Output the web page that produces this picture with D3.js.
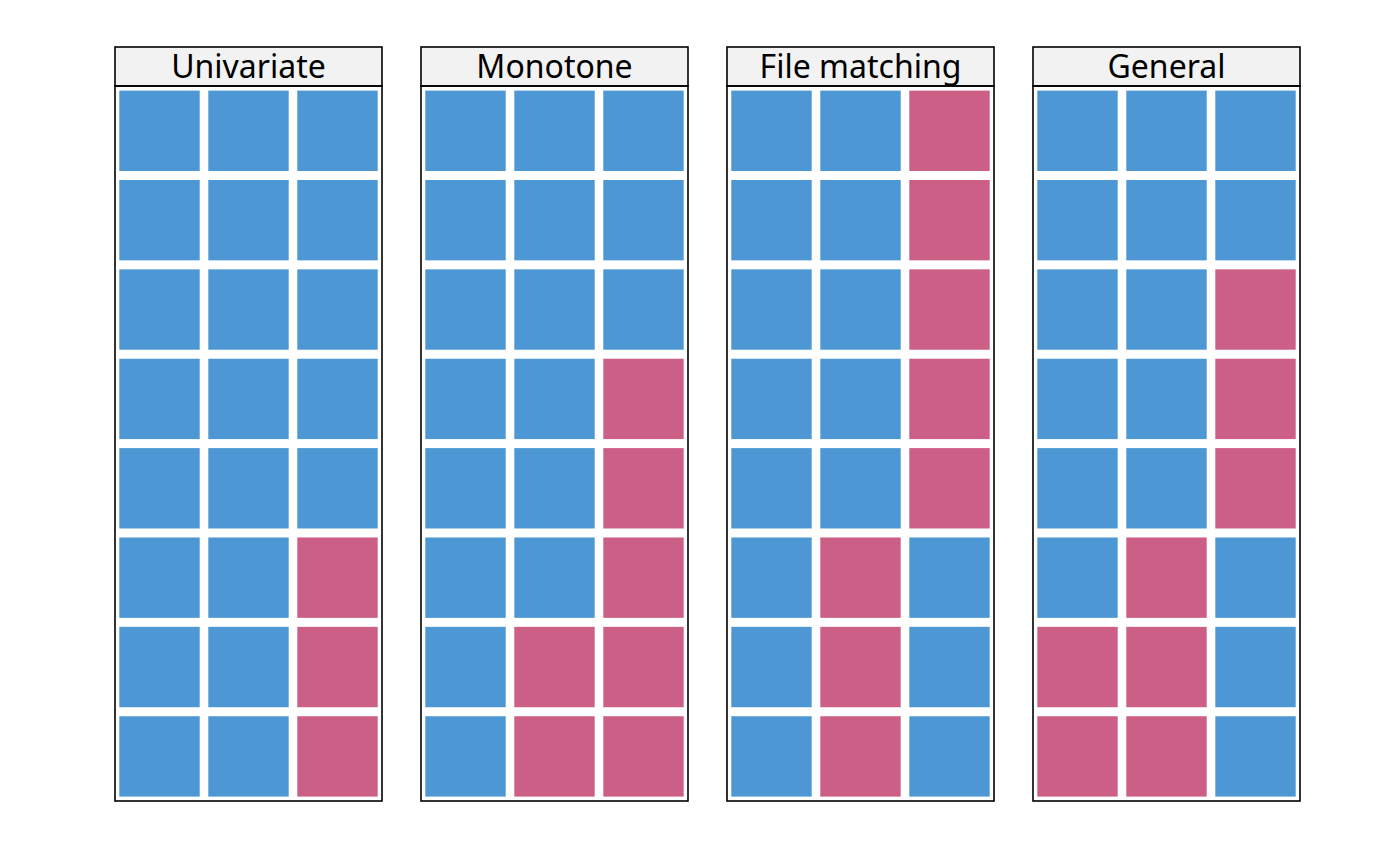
<!DOCTYPE html>
<html>
<head>
<meta charset="utf-8">
<script src="https://cdn.jsdelivr.net/npm/d3@7"></script>
<style>
  body { margin: 0; background: #fff; }
  svg text { font-family: "Noto Sans", "Open Sans", sans-serif; }
</style>
</head>
<body>
<div id="chart-area"><svg></svg></div>
<script>
const chartSize = { width: 1400, height: 866 };
const plot = { left: 115, right: 1300, stripTop: 47, top: 86, bottom: 801 };

// missing-data patterns, 1 = observed, 0 = missing; rows top to bottom, columns left to right
const panels = ['Univariate', 'Monotone', 'File matching', 'General'];
const variables = ['V1', 'V2', 'V3'];
const cases = ['1', '2', '3', '4', '5', '6', '7', '8'];
const univariate = [
  [1, 1, 1], [1, 1, 1], [1, 1, 1], [1, 1, 1],
  [1, 1, 1], [1, 1, 0], [1, 1, 0], [1, 1, 0]
];
const monotone = [
  [1, 1, 1], [1, 1, 1], [1, 1, 1], [1, 1, 0],
  [1, 1, 0], [1, 1, 0], [1, 0, 0], [1, 0, 0]
];
const fileMatching = [
  [1, 1, 0], [1, 1, 0], [1, 1, 0], [1, 1, 0],
  [1, 1, 0], [1, 0, 1], [1, 0, 1], [1, 0, 1]
];
const general = [
  [1, 1, 1], [1, 1, 1], [1, 1, 0], [1, 1, 0],
  [1, 1, 0], [1, 0, 1], [0, 0, 1], [0, 0, 1]
];
const patterns = [univariate, monotone, fileMatching, general];

const colours = { 1: '#4d98d4', 0: '#cc5f85' };

const svg = d3.select('#chart-area svg')
  .attr('width', chartSize.width)
  .attr('height', chartSize.height);

const px = d3.scaleBand()
  .domain(panels)
  .range([plot.left, plot.right])
  .paddingInner(39 / 306);

const x = d3.scaleBand()
  .domain(variables)
  .range([0, px.bandwidth()]);

const y = d3.scaleBand()
  .domain(cases)
  .range([plot.top, plot.bottom]);

const inset = 4.3;

panels.forEach((name, i) => {
  const g = svg.append('g')
    .attr('transform', `translate(${px(name)},0)`);

  const cells = [];
  patterns[i].forEach((row, r) => {
    row.forEach((v, c) => cells.push({ row: cases[r], col: variables[c], v }));
  });

  g.selectAll('rect.tile')
    .data(cells)
    .enter()
    .append('rect')
    .attr('class', 'tile')
    .attr('x', d => x(d.col) + inset)
    .attr('y', d => y(d.row) + inset + 0.3)
    .attr('width', x.bandwidth() - 2 * inset)
    .attr('height', y.bandwidth() - 2 * inset - 0.4)
    .attr('fill', d => colours[d.v]);

  // strip
  g.append('rect')
    .attr('x', 0)
    .attr('y', plot.stripTop)
    .attr('width', px.bandwidth())
    .attr('height', plot.top - plot.stripTop)
    .attr('fill', '#f2f2f2')
    .attr('stroke', '#000')
    .attr('stroke-width', 1.6);

  g.append('text')
    .attr('x', px.bandwidth() / 2)
    .attr('y', (plot.stripTop + plot.top) / 2 + 11)
    .attr('text-anchor', 'middle')
    .attr('font-size', 32)
    .attr('fill', '#000')
    .text(name);

  // panel border
  g.append('rect')
    .attr('x', 0)
    .attr('y', plot.top)
    .attr('width', px.bandwidth())
    .attr('height', plot.bottom - plot.top)
    .attr('fill', 'none')
    .attr('stroke', '#000')
    .attr('stroke-width', 1.6);
});
</script>
</body>
</html>
